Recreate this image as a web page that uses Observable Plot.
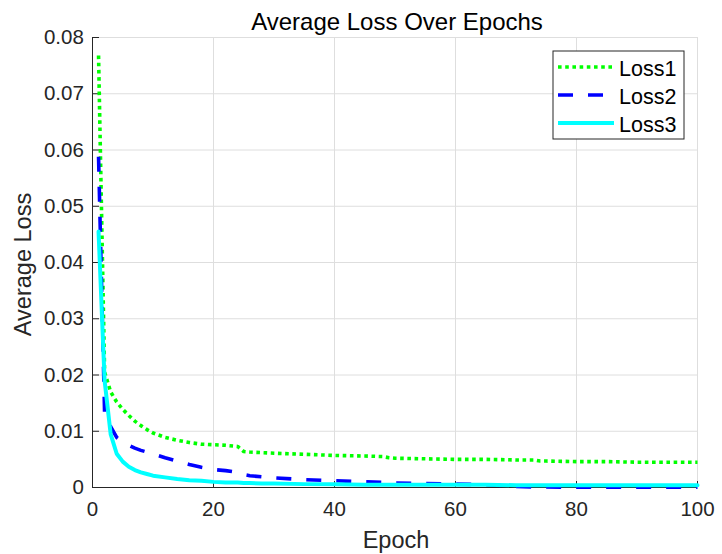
<!DOCTYPE html>
<html><head><meta charset="utf-8">
<script src="https://cdn.jsdelivr.net/npm/d3@7"></script>
<script src="https://cdn.jsdelivr.net/npm/@observablehq/plot@0.6"></script>
<style>
body{margin:0;background:#fff;}
#chart{position:relative;width:722px;height:554px;}
</style></head><body><div id="chart"></div>
<script>
const epochs = [1,2,3,4,5,6,7,8,9,10,12,14,16,18,20,22,24,25,26,28,30,35,40,45,48,49,50,55,60,65,70,73,74,75,80,85,90,95,100];
const loss1 = [0.0768,0.0205,0.0170,0.0152,0.0139,0.0128,0.0118,0.0110,0.0103,0.0097,0.0089,0.0084,0.0080,0.0077,0.0076,0.0075,0.0073,0.0064,0.0063,0.0062,0.0061,0.0059,0.0057,0.0056,0.0055,0.0053,0.0052,0.0051,0.0050,0.0050,0.0049,0.0049,0.0047,0.0047,0.0046,0.0046,0.0045,0.0045,0.0045];
const loss2 = [0.0588,0.0132,0.0108,0.0089,0.0081,0.0075,0.0070,0.0066,0.0063,0.0060,0.0053,0.0047,0.0041,0.0036,0.0032,0.0030,0.0027,0.0023,0.0021,0.0019,0.0017,0.0014,0.0012,0.0010,0.0009,0.0009,0.0008,0.0007,0.0006,0.0005,0.0002,0.0001,0.0001,0.0001,0.00005,0.00005,0.00005,0.00005,0.00005];
const loss3 = [0.0455,0.0190,0.0095,0.0060,0.0046,0.0037,0.0031,0.0027,0.0024,0.0021,0.0018,0.0015,0.0013,0.0012,0.0010,0.0009,0.0009,0.0008,0.0008,0.0007,0.0007,0.0006,0.0006,0.0005,0.0005,0.0005,0.0005,0.0005,0.0005,0.0005,0.0004,0.0004,0.0004,0.0004,0.0004,0.0004,0.0004,0.0004,0.0004];
const seriesNames = ["Loss1","Loss2","Loss3"];
const seriesColors = ["#00ff00","#0000ff","#00ffff"];
const xTicks = [0,20,40,60,80,100];
const xTickLabels = ["0","20","40","60","80","100"];
const yTicks = [0,0.01,0.02,0.03,0.04,0.05,0.06,0.07,0.08];
const yTickLabels = ["0","0.01","0.02","0.03","0.04","0.05","0.06","0.07","0.08"];
const titleText = "Average Loss Over Epochs";
const xLabel = "Epoch";
const yLabel = "Average Loss";

const rows = epochs.map((e, i) => ({epoch: e, loss1: loss1[i], loss2: loss2[i], loss3: loss3[i]}));
const font = "'Liberation Sans', Arial, Helvetica, sans-serif";
const ink = "#262626";
const gridColor = "#dedede";

const plot = Plot.plot({
  width: 722, height: 554,
  marginLeft: 92, marginRight: 25, marginTop: 37, marginBottom: 67,
  style: {fontFamily: font, background: "#fff", overflow: "visible"},
  x: {domain: [0, 100]},
  y: {domain: [0, 0.08]},
  marks: [
    Plot.gridX(xTicks, {stroke: gridColor, strokeOpacity: 1}),
    Plot.gridY(yTicks, {stroke: gridColor, strokeOpacity: 1}),
    Plot.axisX(xTicks, {tickSize: 0, tickPadding: 14, fontSize: 20.5, fill: ink, label: null,
      tickFormat: d => xTickLabels[xTicks.indexOf(d)]}),
    Plot.axisX(xTicks, {tickSize: -6, fill: "none", stroke: ink, label: null}),
    Plot.axisY(yTicks, {tickSize: 0, tickPadding: 8.7, fontSize: 20.5, fill: ink, label: null,
      tickFormat: d => yTickLabels[yTicks.indexOf(d)]}),
    Plot.axisY(yTicks, {tickSize: -7, fill: "none", stroke: ink, label: null}),
    Plot.ruleX([0], {stroke: ink}),
    Plot.ruleY([0], {stroke: ink}),
    Plot.line(rows, {x: "epoch", y: "loss1", stroke: seriesColors[0], strokeWidth: 3.6, strokeDasharray: "3.6,3.6", strokeLinecap: "butt"}),
    Plot.line(rows, {x: "epoch", y: "loss2", stroke: seriesColors[1], strokeWidth: 3.6, strokeDasharray: "15,15", strokeLinecap: "butt"}),
    Plot.line(rows, {x: "epoch", y: "loss3", stroke: seriesColors[2], strokeWidth: 4}),
    Plot.text([titleText], {frameAnchor: "top", textAnchor: "middle", lineAnchor: "middle", dx: 2, dy: -15, fontSize: 24, fill: "#000"}),
    Plot.text([xLabel], {frameAnchor: "bottom", textAnchor: "middle", lineAnchor: "middle", dx: 1, dy: 52.6, fontSize: 23.5, fill: ink}),
    Plot.text([yLabel], {frameAnchor: "left", textAnchor: "middle", lineAnchor: "middle", dx: -69.5, dy: 2, rotate: -90, fontSize: 23.5, fill: ink})
  ]
});
document.getElementById("chart").appendChild(plot);

// legend
const svg = d3.select(plot);
const lg = svg.append("g").attr("font-family", font).attr("font-size", 21.5).attr("text-anchor", "start");
lg.append("rect").attr("x", 553).attr("y", 51).attr("width", 131).attr("height", 88)
  .attr("fill", "#fff").attr("stroke", ink).attr("stroke-width", 1);
const rowY = [67, 95, 123];
const dashes = ["3.6,3.6", "15,15", null];
const sampleEnd = [614, 603.5, 614];
const widths = [3.6, 3.6, 4];
seriesNames.forEach((name, i) => {
  const l = lg.append("line").attr("x1", 558).attr("x2", sampleEnd[i]).attr("y1", rowY[i]).attr("y2", rowY[i])
    .attr("stroke", seriesColors[i]).attr("stroke-width", widths[i]);
  if (dashes[i]) l.attr("stroke-dasharray", dashes[i]);
  lg.append("text").attr("x", 619).attr("y", rowY[i] + 1).attr("dy", "0.35em").attr("fill", "#000").text(name);
});
</script>
</body></html>
